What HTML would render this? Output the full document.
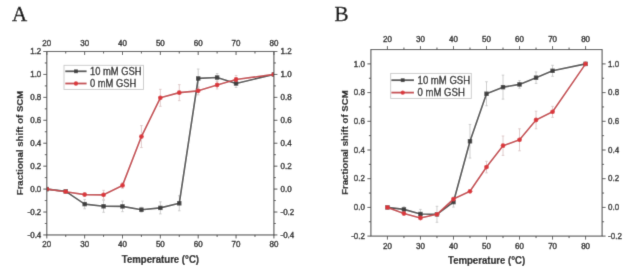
<!DOCTYPE html>
<html><head><meta charset="utf-8"><style>
html,body{margin:0;padding:0;background:#fff;width:633px;height:274px;overflow:hidden}
svg{display:block}
text{font-family:"Liberation Sans",sans-serif;fill:#333333}
.tl{font-size:8.5px;fill:#222;stroke:#222;stroke-width:0.4px}
.lg{font-size:10px;fill:#1a1a1a;stroke:#1a1a1a;stroke-width:0.3px}
.at{font-size:9.6px;font-weight:bold;fill:#111;stroke:#111;stroke-width:0.2px}
.xt{font-size:10px}
.pl{font-family:"Liberation Serif",serif;font-size:21px;fill:#000;stroke:#000;stroke-width:0.35px}
</style></head><body>
<svg width="633" height="274" viewBox="0 0 633 274">
<defs><filter id="bl" x="0" y="0" width="633" height="274" filterUnits="userSpaceOnUse"><feConvolveMatrix order="3" kernelMatrix="0.01134 0.08382 0.01134 0.08382 0.61935 0.08382 0.01134 0.08382 0.01134" divisor="1" edgeMode="duplicate"/></filter></defs>
<g filter="url(#bl)"><rect width="633" height="274" fill="#fff"/>
<text x="12" y="21" class="pl">A</text>
<text x="334.5" y="20.8" class="pl">B</text>
<clipPath id="ca"><rect x="46.8" y="51.5" width="227.1" height="183.45"/></clipPath><g clip-path="url(#ca)">
<path d="M84.65 199.41V208.81M83.35 199.41H85.95M83.35 208.81H85.95" stroke="#c8c8c8" stroke-width="0.9" fill="none"/>
<path d="M103.57 200.29V212.29M102.27 200.29H104.87M102.27 212.29H104.87" stroke="#c8c8c8" stroke-width="0.9" fill="none"/>
<path d="M122.5 201.1V211.7M121.2 201.1H123.8M121.2 211.7H123.8" stroke="#c8c8c8" stroke-width="0.9" fill="none"/>
<path d="M141.42 207.23V212.23M140.12 207.23H142.72M140.12 212.23H142.72" stroke="#c8c8c8" stroke-width="0.9" fill="none"/>
<path d="M160.35 201.89V213.89M159.05 201.89H161.65M159.05 213.89H161.65" stroke="#c8c8c8" stroke-width="0.9" fill="none"/>
<path d="M179.27 195.8V210.8M177.97 195.8H180.57M177.97 210.8H180.57" stroke="#c8c8c8" stroke-width="0.9" fill="none"/>
<path d="M198.2 69.04V87.84M196.9 69.04H199.5M196.9 87.84H199.5" stroke="#c8c8c8" stroke-width="0.9" fill="none"/>
<path d="M217.12 73.53V81.53M215.82 73.53H218.42M215.82 81.53H218.42" stroke="#c8c8c8" stroke-width="0.9" fill="none"/>
<path d="M236.05 79.49V87.49M234.75 79.49H237.35M234.75 87.49H237.35" stroke="#c8c8c8" stroke-width="0.9" fill="none"/>
<path d="M84.65 192.59V196.59M83.35 192.59H85.95M83.35 196.59H85.95" stroke="#dcc6c6" stroke-width="0.9" fill="none"/>
<path d="M103.57 190.32V199.32M102.27 190.32H104.87M102.27 199.32H104.87" stroke="#dcc6c6" stroke-width="0.9" fill="none"/>
<path d="M122.5 182.42V188.42M121.2 182.42H123.8M121.2 188.42H123.8" stroke="#dcc6c6" stroke-width="0.9" fill="none"/>
<path d="M141.42 125.57V147.57M140.12 125.57H142.72M140.12 147.57H142.72" stroke="#dcc6c6" stroke-width="0.9" fill="none"/>
<path d="M160.35 89.32V106.32M159.05 89.32H161.65M159.05 106.32H161.65" stroke="#dcc6c6" stroke-width="0.9" fill="none"/>
<path d="M179.27 84.66V100.66M177.97 84.66H180.57M177.97 100.66H180.57" stroke="#dcc6c6" stroke-width="0.9" fill="none"/>
<path d="M198.2 86.83V94.83M196.9 86.83H199.5M196.9 94.83H199.5" stroke="#dcc6c6" stroke-width="0.9" fill="none"/>
<path d="M217.12 80.98V88.98M215.82 80.98H218.42M215.82 88.98H218.42" stroke="#dcc6c6" stroke-width="0.9" fill="none"/>
<path d="M236.05 75.48V83.48M234.75 75.48H237.35M234.75 83.48H237.35" stroke="#dcc6c6" stroke-width="0.9" fill="none"/>
<path d="M46.8 189.09 L65.72 191.38 L84.65 204.11 L103.57 206.29 L122.5 206.4 L141.42 209.73 L160.35 207.89 L179.27 203.3 L198.2 78.44 L217.12 77.53 L236.05 83.49 L273.9 74.43" stroke="#4d4d4d" stroke-width="1.65" fill="none" stroke-linejoin="round"/>
<rect x="44.6" y="186.89" width="4.4" height="4.4" fill="#404040"/>
<rect x="63.52" y="189.18" width="4.4" height="4.4" fill="#404040"/>
<rect x="82.45" y="201.91" width="4.4" height="4.4" fill="#404040"/>
<rect x="101.37" y="204.09" width="4.4" height="4.4" fill="#404040"/>
<rect x="120.3" y="204.2" width="4.4" height="4.4" fill="#404040"/>
<rect x="139.22" y="207.53" width="4.4" height="4.4" fill="#404040"/>
<rect x="158.15" y="205.69" width="4.4" height="4.4" fill="#404040"/>
<rect x="177.07" y="201.1" width="4.4" height="4.4" fill="#404040"/>
<rect x="196" y="76.24" width="4.4" height="4.4" fill="#404040"/>
<rect x="214.92" y="75.33" width="4.4" height="4.4" fill="#404040"/>
<rect x="233.85" y="81.29" width="4.4" height="4.4" fill="#404040"/>
<rect x="271.7" y="72.23" width="4.4" height="4.4" fill="#404040"/>
<path d="M46.8 189.09 L65.72 191.72 L84.65 194.59 L103.57 194.82 L122.5 185.42 L141.42 136.57 L160.35 97.82 L179.27 92.66 L198.2 90.83 L217.12 84.98 L236.05 79.48 L273.9 74.43" stroke="#c4454a" stroke-width="1.65" fill="none" stroke-linejoin="round"/>
<circle cx="46.8" cy="189.09" r="2.4" fill="#da383c"/>
<circle cx="65.72" cy="191.72" r="2.4" fill="#da383c"/>
<circle cx="84.65" cy="194.59" r="2.4" fill="#da383c"/>
<circle cx="103.57" cy="194.82" r="2.4" fill="#da383c"/>
<circle cx="122.5" cy="185.42" r="2.4" fill="#da383c"/>
<circle cx="141.42" cy="136.57" r="2.4" fill="#da383c"/>
<circle cx="160.35" cy="97.82" r="2.4" fill="#da383c"/>
<circle cx="179.27" cy="92.66" r="2.4" fill="#da383c"/>
<circle cx="198.2" cy="90.83" r="2.4" fill="#da383c"/>
<circle cx="217.12" cy="84.98" r="2.4" fill="#da383c"/>
<circle cx="236.05" cy="79.48" r="2.4" fill="#da383c"/>
<circle cx="273.9" cy="74.43" r="2.4" fill="#da383c"/>
</g>
<rect x="46.8" y="51.5" width="227.1" height="183.45" fill="none" stroke="#505050" stroke-width="1.1"/>
<line x1="46.8" y1="234.95" x2="46.8" y2="238.45" stroke="#505050" stroke-width="1"/>
<line x1="46.8" y1="51.5" x2="46.8" y2="55" stroke="#505050" stroke-width="1"/>
<text transform="translate(46.8,247.1) scale(0.94,1.0)" text-anchor="middle" class="tl">20</text>
<text transform="translate(46.8,46) scale(0.94,1.0)" text-anchor="middle" class="tl">20</text>
<line x1="65.72" y1="234.95" x2="65.72" y2="236.95" stroke="#505050" stroke-width="1"/>
<line x1="65.72" y1="51.5" x2="65.72" y2="53.5" stroke="#505050" stroke-width="1"/>
<line x1="84.65" y1="234.95" x2="84.65" y2="238.45" stroke="#505050" stroke-width="1"/>
<line x1="84.65" y1="51.5" x2="84.65" y2="55" stroke="#505050" stroke-width="1"/>
<text transform="translate(84.65,247.1) scale(0.94,1.0)" text-anchor="middle" class="tl">30</text>
<text transform="translate(84.65,46) scale(0.94,1.0)" text-anchor="middle" class="tl">30</text>
<line x1="103.57" y1="234.95" x2="103.57" y2="236.95" stroke="#505050" stroke-width="1"/>
<line x1="103.57" y1="51.5" x2="103.57" y2="53.5" stroke="#505050" stroke-width="1"/>
<line x1="122.5" y1="234.95" x2="122.5" y2="238.45" stroke="#505050" stroke-width="1"/>
<line x1="122.5" y1="51.5" x2="122.5" y2="55" stroke="#505050" stroke-width="1"/>
<text transform="translate(122.5,247.1) scale(0.94,1.0)" text-anchor="middle" class="tl">40</text>
<text transform="translate(122.5,46) scale(0.94,1.0)" text-anchor="middle" class="tl">40</text>
<line x1="141.42" y1="234.95" x2="141.42" y2="236.95" stroke="#505050" stroke-width="1"/>
<line x1="141.42" y1="51.5" x2="141.42" y2="53.5" stroke="#505050" stroke-width="1"/>
<line x1="160.35" y1="234.95" x2="160.35" y2="238.45" stroke="#505050" stroke-width="1"/>
<line x1="160.35" y1="51.5" x2="160.35" y2="55" stroke="#505050" stroke-width="1"/>
<text transform="translate(160.35,247.1) scale(0.94,1.0)" text-anchor="middle" class="tl">50</text>
<text transform="translate(160.35,46) scale(0.94,1.0)" text-anchor="middle" class="tl">50</text>
<line x1="179.27" y1="234.95" x2="179.27" y2="236.95" stroke="#505050" stroke-width="1"/>
<line x1="179.27" y1="51.5" x2="179.27" y2="53.5" stroke="#505050" stroke-width="1"/>
<line x1="198.2" y1="234.95" x2="198.2" y2="238.45" stroke="#505050" stroke-width="1"/>
<line x1="198.2" y1="51.5" x2="198.2" y2="55" stroke="#505050" stroke-width="1"/>
<text transform="translate(198.2,247.1) scale(0.94,1.0)" text-anchor="middle" class="tl">60</text>
<text transform="translate(198.2,46) scale(0.94,1.0)" text-anchor="middle" class="tl">60</text>
<line x1="217.12" y1="234.95" x2="217.12" y2="236.95" stroke="#505050" stroke-width="1"/>
<line x1="217.12" y1="51.5" x2="217.12" y2="53.5" stroke="#505050" stroke-width="1"/>
<line x1="236.05" y1="234.95" x2="236.05" y2="238.45" stroke="#505050" stroke-width="1"/>
<line x1="236.05" y1="51.5" x2="236.05" y2="55" stroke="#505050" stroke-width="1"/>
<text transform="translate(236.05,247.1) scale(0.94,1.0)" text-anchor="middle" class="tl">70</text>
<text transform="translate(236.05,46) scale(0.94,1.0)" text-anchor="middle" class="tl">70</text>
<line x1="254.97" y1="234.95" x2="254.97" y2="236.95" stroke="#505050" stroke-width="1"/>
<line x1="254.97" y1="51.5" x2="254.97" y2="53.5" stroke="#505050" stroke-width="1"/>
<line x1="273.9" y1="234.95" x2="273.9" y2="238.45" stroke="#505050" stroke-width="1"/>
<line x1="273.9" y1="51.5" x2="273.9" y2="55" stroke="#505050" stroke-width="1"/>
<text transform="translate(273.9,247.1) scale(0.94,1.0)" text-anchor="middle" class="tl">80</text>
<text transform="translate(273.9,46) scale(0.94,1.0)" text-anchor="middle" class="tl">80</text>
<line x1="43.3" y1="234.95" x2="46.8" y2="234.95" stroke="#505050" stroke-width="1"/>
<line x1="273.9" y1="234.95" x2="277.4" y2="234.95" stroke="#505050" stroke-width="1"/>
<text transform="translate(41.3,237.65) scale(0.94,1.0)" text-anchor="end" class="tl">-0.4</text>
<text transform="translate(280.5,237.65) scale(0.94,1.0)" class="tl">-0.4</text>
<line x1="44.8" y1="223.48" x2="46.8" y2="223.48" stroke="#505050" stroke-width="1"/>
<line x1="273.9" y1="223.48" x2="275.9" y2="223.48" stroke="#505050" stroke-width="1"/>
<line x1="43.3" y1="212.02" x2="46.8" y2="212.02" stroke="#505050" stroke-width="1"/>
<line x1="273.9" y1="212.02" x2="277.4" y2="212.02" stroke="#505050" stroke-width="1"/>
<text transform="translate(41.3,214.72) scale(0.94,1.0)" text-anchor="end" class="tl">-0.2</text>
<text transform="translate(280.5,214.72) scale(0.94,1.0)" class="tl">-0.2</text>
<line x1="44.8" y1="200.55" x2="46.8" y2="200.55" stroke="#505050" stroke-width="1"/>
<line x1="273.9" y1="200.55" x2="275.9" y2="200.55" stroke="#505050" stroke-width="1"/>
<line x1="43.3" y1="189.09" x2="46.8" y2="189.09" stroke="#505050" stroke-width="1"/>
<line x1="273.9" y1="189.09" x2="277.4" y2="189.09" stroke="#505050" stroke-width="1"/>
<text transform="translate(41.3,191.79) scale(0.94,1.0)" text-anchor="end" class="tl">0.0</text>
<text transform="translate(280.5,191.79) scale(0.94,1.0)" class="tl">0.0</text>
<line x1="44.8" y1="177.62" x2="46.8" y2="177.62" stroke="#505050" stroke-width="1"/>
<line x1="273.9" y1="177.62" x2="275.9" y2="177.62" stroke="#505050" stroke-width="1"/>
<line x1="43.3" y1="166.16" x2="46.8" y2="166.16" stroke="#505050" stroke-width="1"/>
<line x1="273.9" y1="166.16" x2="277.4" y2="166.16" stroke="#505050" stroke-width="1"/>
<text transform="translate(41.3,168.86) scale(0.94,1.0)" text-anchor="end" class="tl">0.2</text>
<text transform="translate(280.5,168.86) scale(0.94,1.0)" class="tl">0.2</text>
<line x1="44.8" y1="154.69" x2="46.8" y2="154.69" stroke="#505050" stroke-width="1"/>
<line x1="273.9" y1="154.69" x2="275.9" y2="154.69" stroke="#505050" stroke-width="1"/>
<line x1="43.3" y1="143.22" x2="46.8" y2="143.22" stroke="#505050" stroke-width="1"/>
<line x1="273.9" y1="143.22" x2="277.4" y2="143.22" stroke="#505050" stroke-width="1"/>
<text transform="translate(41.3,145.92) scale(0.94,1.0)" text-anchor="end" class="tl">0.4</text>
<text transform="translate(280.5,145.92) scale(0.94,1.0)" class="tl">0.4</text>
<line x1="44.8" y1="131.76" x2="46.8" y2="131.76" stroke="#505050" stroke-width="1"/>
<line x1="273.9" y1="131.76" x2="275.9" y2="131.76" stroke="#505050" stroke-width="1"/>
<line x1="43.3" y1="120.29" x2="46.8" y2="120.29" stroke="#505050" stroke-width="1"/>
<line x1="273.9" y1="120.29" x2="277.4" y2="120.29" stroke="#505050" stroke-width="1"/>
<text transform="translate(41.3,122.99) scale(0.94,1.0)" text-anchor="end" class="tl">0.6</text>
<text transform="translate(280.5,122.99) scale(0.94,1.0)" class="tl">0.6</text>
<line x1="44.8" y1="108.83" x2="46.8" y2="108.83" stroke="#505050" stroke-width="1"/>
<line x1="273.9" y1="108.83" x2="275.9" y2="108.83" stroke="#505050" stroke-width="1"/>
<line x1="43.3" y1="97.36" x2="46.8" y2="97.36" stroke="#505050" stroke-width="1"/>
<line x1="273.9" y1="97.36" x2="277.4" y2="97.36" stroke="#505050" stroke-width="1"/>
<text transform="translate(41.3,100.06) scale(0.94,1.0)" text-anchor="end" class="tl">0.8</text>
<text transform="translate(280.5,100.06) scale(0.94,1.0)" class="tl">0.8</text>
<line x1="44.8" y1="85.9" x2="46.8" y2="85.9" stroke="#505050" stroke-width="1"/>
<line x1="273.9" y1="85.9" x2="275.9" y2="85.9" stroke="#505050" stroke-width="1"/>
<line x1="43.3" y1="74.43" x2="46.8" y2="74.43" stroke="#505050" stroke-width="1"/>
<line x1="273.9" y1="74.43" x2="277.4" y2="74.43" stroke="#505050" stroke-width="1"/>
<text transform="translate(41.3,77.13) scale(0.94,1.0)" text-anchor="end" class="tl">1.0</text>
<text transform="translate(280.5,77.13) scale(0.94,1.0)" class="tl">1.0</text>
<line x1="44.8" y1="62.97" x2="46.8" y2="62.97" stroke="#505050" stroke-width="1"/>
<line x1="273.9" y1="62.97" x2="275.9" y2="62.97" stroke="#505050" stroke-width="1"/>
<line x1="43.3" y1="51.5" x2="46.8" y2="51.5" stroke="#505050" stroke-width="1"/>
<line x1="273.9" y1="51.5" x2="277.4" y2="51.5" stroke="#505050" stroke-width="1"/>
<text transform="translate(41.3,54.2) scale(0.94,1.0)" text-anchor="end" class="tl">1.2</text>
<text transform="translate(280.5,54.2) scale(0.94,1.0)" class="tl">1.2</text>
<rect x="64" y="65.3" width="79.5" height="24.1" fill="#fff" stroke="#c8c8c8" stroke-width="0.9"/>
<line x1="65.3" y1="71.3" x2="86.6" y2="71.3" stroke="#4d4d4d" stroke-width="1.8"/>
<rect x="74.05" y="69.4" width="3.8" height="3.8" fill="#404040"/>
<text transform="translate(90,74.7) scale(0.936,1.0)" class="lg">10 mM GSH</text>
<line x1="65.3" y1="83.5" x2="86.6" y2="83.5" stroke="#c4454a" stroke-width="1.8"/>
<circle cx="75.95" cy="83.5" r="2.2" fill="#da383c"/>
<text transform="translate(90,86.9) scale(0.936,1.0)" class="lg">0 mM GSH</text>
<text transform="translate(160.4,262.6) scale(0.96,1.0)" text-anchor="middle" class="at xt">Temperature (°C)</text>
<text transform="translate(23.3,143) rotate(-90) scale(1.0,0.92)" text-anchor="middle" class="at">Fractional shift of SCM</text>
<clipPath id="cb"><rect x="370.9" y="49.55" width="231.2" height="186.55"/></clipPath><g clip-path="url(#cb)">
<path d="M403.93 206.71V212.11M402.63 206.71H405.23M402.63 212.11H405.23" stroke="#c8c8c8" stroke-width="0.9" fill="none"/>
<path d="M420.44 209.4V218.6M419.14 209.4H421.74M419.14 218.6H421.74" stroke="#c8c8c8" stroke-width="0.9" fill="none"/>
<path d="M436.96 206.29V222.29M435.66 206.29H438.26M435.66 222.29H438.26" stroke="#c8c8c8" stroke-width="0.9" fill="none"/>
<path d="M453.47 197.09V207.09M452.17 197.09H454.77M452.17 207.09H454.77" stroke="#c8c8c8" stroke-width="0.9" fill="none"/>
<path d="M469.99 124.45V158.05M468.69 124.45H471.29M468.69 158.05H471.29" stroke="#c8c8c8" stroke-width="0.9" fill="none"/>
<path d="M486.5 81.75V105.75M485.2 81.75H487.8M485.2 105.75H487.8" stroke="#c8c8c8" stroke-width="0.9" fill="none"/>
<path d="M503.01 75.15V99.15M501.71 75.15H504.31M501.71 99.15H504.31" stroke="#c8c8c8" stroke-width="0.9" fill="none"/>
<path d="M519.53 80.62V88.22M518.23 80.62H520.83M518.23 88.22H520.83" stroke="#c8c8c8" stroke-width="0.9" fill="none"/>
<path d="M536.04 71.93V83.43M534.74 71.93H537.34M534.74 83.43H537.34" stroke="#c8c8c8" stroke-width="0.9" fill="none"/>
<path d="M552.56 65.29V76.29M551.26 65.29H553.86M551.26 76.29H553.86" stroke="#c8c8c8" stroke-width="0.9" fill="none"/>
<path d="M486.5 161.28V172.88M485.2 161.28H487.8M485.2 172.88H487.8" stroke="#dcc6c6" stroke-width="0.9" fill="none"/>
<path d="M503.01 136V155.39M501.71 136H504.31M501.71 155.39H504.31" stroke="#dcc6c6" stroke-width="0.9" fill="none"/>
<path d="M519.53 128.81V150.81M518.23 128.81H520.83M518.23 150.81H520.83" stroke="#dcc6c6" stroke-width="0.9" fill="none"/>
<path d="M536.04 111.21V128.81M534.74 111.21H537.34M534.74 128.81H537.34" stroke="#dcc6c6" stroke-width="0.9" fill="none"/>
<path d="M552.56 106.33V117.33M551.26 106.33H553.86M551.26 117.33H553.86" stroke="#dcc6c6" stroke-width="0.9" fill="none"/>
<path d="M387.41 207.4 L403.93 209.41 L420.44 214 L436.96 214.29 L453.47 202.09 L469.99 141.25 L486.5 93.75 L503.01 87.15 L519.53 84.42 L536.04 77.68 L552.56 70.79 L585.59 63.9" stroke="#4d4d4d" stroke-width="1.65" fill="none" stroke-linejoin="round"/>
<rect x="385.21" y="205.2" width="4.4" height="4.4" fill="#404040"/>
<rect x="401.73" y="207.21" width="4.4" height="4.4" fill="#404040"/>
<rect x="418.24" y="211.8" width="4.4" height="4.4" fill="#404040"/>
<rect x="434.76" y="212.09" width="4.4" height="4.4" fill="#404040"/>
<rect x="451.27" y="199.89" width="4.4" height="4.4" fill="#404040"/>
<rect x="467.79" y="139.05" width="4.4" height="4.4" fill="#404040"/>
<rect x="484.3" y="91.55" width="4.4" height="4.4" fill="#404040"/>
<rect x="500.81" y="84.95" width="4.4" height="4.4" fill="#404040"/>
<rect x="517.33" y="82.22" width="4.4" height="4.4" fill="#404040"/>
<rect x="533.84" y="75.48" width="4.4" height="4.4" fill="#404040"/>
<rect x="550.36" y="68.59" width="4.4" height="4.4" fill="#404040"/>
<rect x="583.39" y="61.7" width="4.4" height="4.4" fill="#404040"/>
<path d="M387.41 207.4 L403.93 213.57 L420.44 218.02 L436.96 214.29 L453.47 199.08 L469.99 191.33 L486.5 167.08 L503.01 145.69 L519.53 139.81 L536.04 120.01 L552.56 111.83 L585.59 63.9" stroke="#c4454a" stroke-width="1.65" fill="none" stroke-linejoin="round"/>
<circle cx="387.41" cy="207.4" r="2.4" fill="#da383c"/>
<circle cx="403.93" cy="213.57" r="2.4" fill="#da383c"/>
<circle cx="420.44" cy="218.02" r="2.4" fill="#da383c"/>
<circle cx="436.96" cy="214.29" r="2.4" fill="#da383c"/>
<circle cx="453.47" cy="199.08" r="2.4" fill="#da383c"/>
<circle cx="469.99" cy="191.33" r="2.4" fill="#da383c"/>
<circle cx="486.5" cy="167.08" r="2.4" fill="#da383c"/>
<circle cx="503.01" cy="145.69" r="2.4" fill="#da383c"/>
<circle cx="519.53" cy="139.81" r="2.4" fill="#da383c"/>
<circle cx="536.04" cy="120.01" r="2.4" fill="#da383c"/>
<circle cx="552.56" cy="111.83" r="2.4" fill="#da383c"/>
<circle cx="585.59" cy="63.9" r="2.4" fill="#da383c"/>
</g>
<rect x="370.9" y="49.55" width="231.2" height="186.55" fill="none" stroke="#505050" stroke-width="1.1"/>
<line x1="387.41" y1="236.1" x2="387.41" y2="239.6" stroke="#505050" stroke-width="1"/>
<line x1="387.41" y1="49.55" x2="387.41" y2="46.05" stroke="#505050" stroke-width="1"/>
<text transform="translate(387.41,248.6) scale(0.94,1.0)" text-anchor="middle" class="tl">20</text>
<text transform="translate(387.41,41.8) scale(0.94,1.0)" text-anchor="middle" class="tl">20</text>
<line x1="403.93" y1="236.1" x2="403.93" y2="238.1" stroke="#505050" stroke-width="1"/>
<line x1="403.93" y1="49.55" x2="403.93" y2="47.55" stroke="#505050" stroke-width="1"/>
<line x1="420.44" y1="236.1" x2="420.44" y2="239.6" stroke="#505050" stroke-width="1"/>
<line x1="420.44" y1="49.55" x2="420.44" y2="46.05" stroke="#505050" stroke-width="1"/>
<text transform="translate(420.44,248.6) scale(0.94,1.0)" text-anchor="middle" class="tl">30</text>
<text transform="translate(420.44,41.8) scale(0.94,1.0)" text-anchor="middle" class="tl">30</text>
<line x1="436.96" y1="236.1" x2="436.96" y2="238.1" stroke="#505050" stroke-width="1"/>
<line x1="436.96" y1="49.55" x2="436.96" y2="47.55" stroke="#505050" stroke-width="1"/>
<line x1="453.47" y1="236.1" x2="453.47" y2="239.6" stroke="#505050" stroke-width="1"/>
<line x1="453.47" y1="49.55" x2="453.47" y2="46.05" stroke="#505050" stroke-width="1"/>
<text transform="translate(453.47,248.6) scale(0.94,1.0)" text-anchor="middle" class="tl">40</text>
<text transform="translate(453.47,41.8) scale(0.94,1.0)" text-anchor="middle" class="tl">40</text>
<line x1="469.99" y1="236.1" x2="469.99" y2="238.1" stroke="#505050" stroke-width="1"/>
<line x1="469.99" y1="49.55" x2="469.99" y2="47.55" stroke="#505050" stroke-width="1"/>
<line x1="486.5" y1="236.1" x2="486.5" y2="239.6" stroke="#505050" stroke-width="1"/>
<line x1="486.5" y1="49.55" x2="486.5" y2="46.05" stroke="#505050" stroke-width="1"/>
<text transform="translate(486.5,248.6) scale(0.94,1.0)" text-anchor="middle" class="tl">50</text>
<text transform="translate(486.5,41.8) scale(0.94,1.0)" text-anchor="middle" class="tl">50</text>
<line x1="503.01" y1="236.1" x2="503.01" y2="238.1" stroke="#505050" stroke-width="1"/>
<line x1="503.01" y1="49.55" x2="503.01" y2="47.55" stroke="#505050" stroke-width="1"/>
<line x1="519.53" y1="236.1" x2="519.53" y2="239.6" stroke="#505050" stroke-width="1"/>
<line x1="519.53" y1="49.55" x2="519.53" y2="46.05" stroke="#505050" stroke-width="1"/>
<text transform="translate(519.53,248.6) scale(0.94,1.0)" text-anchor="middle" class="tl">60</text>
<text transform="translate(519.53,41.8) scale(0.94,1.0)" text-anchor="middle" class="tl">60</text>
<line x1="536.04" y1="236.1" x2="536.04" y2="238.1" stroke="#505050" stroke-width="1"/>
<line x1="536.04" y1="49.55" x2="536.04" y2="47.55" stroke="#505050" stroke-width="1"/>
<line x1="552.56" y1="236.1" x2="552.56" y2="239.6" stroke="#505050" stroke-width="1"/>
<line x1="552.56" y1="49.55" x2="552.56" y2="46.05" stroke="#505050" stroke-width="1"/>
<text transform="translate(552.56,248.6) scale(0.94,1.0)" text-anchor="middle" class="tl">70</text>
<text transform="translate(552.56,41.8) scale(0.94,1.0)" text-anchor="middle" class="tl">70</text>
<line x1="569.07" y1="236.1" x2="569.07" y2="238.1" stroke="#505050" stroke-width="1"/>
<line x1="569.07" y1="49.55" x2="569.07" y2="47.55" stroke="#505050" stroke-width="1"/>
<line x1="585.59" y1="236.1" x2="585.59" y2="239.6" stroke="#505050" stroke-width="1"/>
<line x1="585.59" y1="49.55" x2="585.59" y2="46.05" stroke="#505050" stroke-width="1"/>
<text transform="translate(585.59,248.6) scale(0.94,1.0)" text-anchor="middle" class="tl">80</text>
<text transform="translate(585.59,41.8) scale(0.94,1.0)" text-anchor="middle" class="tl">80</text>
<line x1="367.4" y1="236.1" x2="370.9" y2="236.1" stroke="#505050" stroke-width="1"/>
<line x1="602.1" y1="236.1" x2="605.6" y2="236.1" stroke="#505050" stroke-width="1"/>
<text transform="translate(364.9,238.8) scale(0.94,1.0)" text-anchor="end" class="tl">-0.2</text>
<text transform="translate(608.1,238.8) scale(0.94,1.0)" class="tl">-0.2</text>
<line x1="368.9" y1="221.75" x2="370.9" y2="221.75" stroke="#505050" stroke-width="1"/>
<line x1="602.1" y1="221.75" x2="604.1" y2="221.75" stroke="#505050" stroke-width="1"/>
<line x1="367.4" y1="207.4" x2="370.9" y2="207.4" stroke="#505050" stroke-width="1"/>
<line x1="602.1" y1="207.4" x2="605.6" y2="207.4" stroke="#505050" stroke-width="1"/>
<text transform="translate(364.9,210.1) scale(0.94,1.0)" text-anchor="end" class="tl">0.0</text>
<text transform="translate(608.1,210.1) scale(0.94,1.0)" class="tl">0.0</text>
<line x1="368.9" y1="193.05" x2="370.9" y2="193.05" stroke="#505050" stroke-width="1"/>
<line x1="602.1" y1="193.05" x2="604.1" y2="193.05" stroke="#505050" stroke-width="1"/>
<line x1="367.4" y1="178.7" x2="370.9" y2="178.7" stroke="#505050" stroke-width="1"/>
<line x1="602.1" y1="178.7" x2="605.6" y2="178.7" stroke="#505050" stroke-width="1"/>
<text transform="translate(364.9,181.4) scale(0.94,1.0)" text-anchor="end" class="tl">0.2</text>
<text transform="translate(608.1,181.4) scale(0.94,1.0)" class="tl">0.2</text>
<line x1="368.9" y1="164.35" x2="370.9" y2="164.35" stroke="#505050" stroke-width="1"/>
<line x1="602.1" y1="164.35" x2="604.1" y2="164.35" stroke="#505050" stroke-width="1"/>
<line x1="367.4" y1="150" x2="370.9" y2="150" stroke="#505050" stroke-width="1"/>
<line x1="602.1" y1="150" x2="605.6" y2="150" stroke="#505050" stroke-width="1"/>
<text transform="translate(364.9,152.7) scale(0.94,1.0)" text-anchor="end" class="tl">0.4</text>
<text transform="translate(608.1,152.7) scale(0.94,1.0)" class="tl">0.4</text>
<line x1="368.9" y1="135.65" x2="370.9" y2="135.65" stroke="#505050" stroke-width="1"/>
<line x1="602.1" y1="135.65" x2="604.1" y2="135.65" stroke="#505050" stroke-width="1"/>
<line x1="367.4" y1="121.3" x2="370.9" y2="121.3" stroke="#505050" stroke-width="1"/>
<line x1="602.1" y1="121.3" x2="605.6" y2="121.3" stroke="#505050" stroke-width="1"/>
<text transform="translate(364.9,124) scale(0.94,1.0)" text-anchor="end" class="tl">0.6</text>
<text transform="translate(608.1,124) scale(0.94,1.0)" class="tl">0.6</text>
<line x1="368.9" y1="106.95" x2="370.9" y2="106.95" stroke="#505050" stroke-width="1"/>
<line x1="602.1" y1="106.95" x2="604.1" y2="106.95" stroke="#505050" stroke-width="1"/>
<line x1="367.4" y1="92.6" x2="370.9" y2="92.6" stroke="#505050" stroke-width="1"/>
<line x1="602.1" y1="92.6" x2="605.6" y2="92.6" stroke="#505050" stroke-width="1"/>
<text transform="translate(364.9,95.3) scale(0.94,1.0)" text-anchor="end" class="tl">0.8</text>
<text transform="translate(608.1,95.3) scale(0.94,1.0)" class="tl">0.8</text>
<line x1="368.9" y1="78.25" x2="370.9" y2="78.25" stroke="#505050" stroke-width="1"/>
<line x1="602.1" y1="78.25" x2="604.1" y2="78.25" stroke="#505050" stroke-width="1"/>
<line x1="367.4" y1="63.9" x2="370.9" y2="63.9" stroke="#505050" stroke-width="1"/>
<line x1="602.1" y1="63.9" x2="605.6" y2="63.9" stroke="#505050" stroke-width="1"/>
<text transform="translate(364.9,66.6) scale(0.94,1.0)" text-anchor="end" class="tl">1.0</text>
<text transform="translate(608.1,66.6) scale(0.94,1.0)" class="tl">1.0</text>
<rect x="390.7" y="73.4" width="80.6" height="25" fill="#fff" stroke="#c8c8c8" stroke-width="0.9"/>
<line x1="391.4" y1="80.2" x2="414" y2="80.2" stroke="#4d4d4d" stroke-width="1.8"/>
<rect x="400.8" y="78.3" width="3.8" height="3.8" fill="#404040"/>
<text transform="translate(417.6,83.7) scale(0.957,1.0)" class="lg">10 mM GSH</text>
<line x1="391.4" y1="92.6" x2="414" y2="92.6" stroke="#c4454a" stroke-width="1.8"/>
<circle cx="402.7" cy="92.6" r="2.2" fill="#da383c"/>
<text transform="translate(417.6,96.1) scale(0.957,1.0)" class="lg">0 mM GSH</text>
<text transform="translate(486.6,263.7) scale(0.96,1.0)" text-anchor="middle" class="at xt">Temperature (°C)</text>
<text transform="translate(347.6,142.6) rotate(-90) scale(1.0,0.92)" text-anchor="middle" class="at">Fractional shift of SCM</text>
</g></svg>
</body></html>
